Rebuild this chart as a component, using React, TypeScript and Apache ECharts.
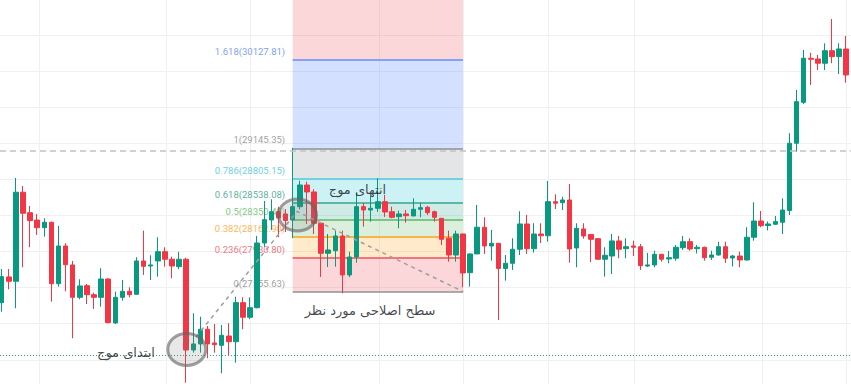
import React, { useEffect, useRef } from 'react';
import * as echarts from 'echarts';

// [open, close, low, high] for each candle, index = position on the time axis
const ohlc: number[][] = [
  [27434, 27722, 27334, 27807], [27719, 27671, 27582, 27807], [27671, 28658, 27372, 28816], [28658, 28425, 27826, 28727],
  [28431, 28343, 28048, 28506], [28350, 28265, 28184, 28417], [28265, 28325, 28165, 28369], [28325, 27644, 27445, 28332],
  [27644, 28062, 27611, 28284], [28062, 27855, 27560, 28092], [27852, 27493, 27039, 27896], [27493, 27619, 27471, 27693],
  [27622, 27522, 27419, 27641], [27522, 27493, 27364, 27544], [27493, 27696, 27389, 27815], [27696, 27212, 27205, 27704],
  [27209, 27493, 27197, 27556], [27493, 27560, 27456, 27685], [27560, 27522, 27493, 27604], [27527, 27896, 27520, 27937],
  [27896, 27837, 27741, 28232], [27840, 27852, 27685, 27959], [27896, 27999, 27722, 28159], [27999, 27915, 27833, 28048],
  [27915, 27840, 27704, 27944], [27833, 27915, 27804, 27999], [27915, 26909, 26547, 27932], [26909, 26976, 26879, 27316],
  [26976, 27139, 26879, 27278], [27139, 26976, 26817, 27175], [26987, 26968, 26879, 27197], [26961, 27072, 26651, 27186],
  [27064, 27001, 26854, 27205], [27001, 27434, 26768, 27500], [27434, 27272, 27139, 27493], [27272, 27378, 27250, 27493],
  [27378, 28095, 27370, 28173], [28095, 28354, 28054, 28561], [28350, 28442, 28240, 28580], [28442, 28373, 28162, 28495],
  [28417, 28345, 28217, 28472], [28350, 28498, 28148, 29150], [28498, 28738, 28469, 28786], [28738, 28661, 28306, 28775],
  [28661, 28314, 28195, 28691], [28314, 27981, 27719, 28320], [27981, 28018, 27829, 28195], [28010, 28173, 27833, 28232],
  [28173, 27741, 27538, 28232], [27741, 27940, 27715, 27999], [27940, 28498, 27877, 28646], [28498, 28461, 28276, 28539],
  [28461, 28480, 28332, 28616], [28480, 28553, 28439, 28813], [28553, 28439, 28384, 28628], [28442, 28380, 28369, 28498],
  [28387, 28417, 28258, 28454], [28417, 28398, 28320, 28461], [28395, 28469, 28395, 28591], [28469, 28487, 28380, 28542],
  [28491, 28431, 28406, 28506], [28442, 28380, 28332, 28454], [28369, 28136, 28073, 28369], [28148, 27962, 27888, 28232],
  [27962, 28195, 27888, 28232], [28195, 27763, 27604, 28200], [27766, 27974, 27611, 27980], [27974, 28270, 27974, 28517],
  [28270, 28062, 27974, 28380], [28062, 28092, 27899, 28240], [28092, 27813, 27242, 28095], [27813, 27870, 27678, 27962],
  [27870, 28026, 27796, 28148], [28026, 28306, 27962, 28447], [28306, 28032, 27974, 28406], [28032, 28195, 27988, 28314],
  [28195, 28176, 28095, 28314], [28176, 28553, 28110, 28783], [28553, 28536, 28472, 28635], [28542, 28572, 28461, 28609],
  [28572, 28029, 27877, 28750], [28040, 28258, 27826, 28314], [28251, 28173, 28143, 28314], [28190, 28136, 27885, 28195],
  [28143, 27915, 27910, 28150], [27915, 27959, 27722, 28048], [27951, 28118, 27752, 28195], [28118, 28026, 27926, 28173],
  [28032, 28054, 27926, 28148], [28062, 28048, 27951, 28121], [28054, 27844, 27796, 28084], [27840, 27852, 27829, 27985],
  [27852, 27970, 27826, 28010], [27970, 27915, 27888, 27974], [27918, 27932, 27870, 28007], [27926, 28048, 27899, 28073],
  [28043, 28110, 28018, 28173], [28110, 28029, 28010, 28148], [28032, 28048, 27979, 28073], [28048, 27932, 27899, 28054],
  [27937, 27962, 27907, 28010], [27962, 28054, 27955, 28110], [28054, 27926, 27874, 28110], [27929, 27951, 27835, 27962],
  [27951, 27907, 27826, 27999], [27907, 28159, 27900, 28270], [28159, 28339, 28121, 28547], [28339, 28287, 28270, 28450],
  [28289, 28306, 28234, 28334], [28303, 28332, 28295, 28395], [28325, 28461, 28195, 28591], [28456, 29201, 28406, 29312],
  [29201, 29662, 29108, 29792], [29655, 30143, 29636, 30235], [30143, 30132, 29847, 30205], [30135, 30088, 30013, 30180],
  [30088, 30227, 30013, 30309], [30227, 30161, 30088, 30579], [30161, 30246, 29969, 30309], [30246, 29958, 29873, 30390],
  [29958, 30002, 29940, 30030],
];

const fibRatios = [0, 0.236, 0.382, 0.5, 0.618, 0.786, 1, 1.618, 2.618];
const fibPrices = [27555.63, 27930.8, 28162.9, 28350.49, 28538.08, 28805.15, 29145.35, 30127.81, 31717.52];
const fibColors = ['#787b86', '#f23645', '#ff9800', '#4caf50', '#089981', '#00bcd4', '#787b86', '#2962ff', '#f23645'];
const fibLineColors = ['#8e9099', '#f2505c', '#ffa01e', '#5cb85f', '#3aa58f', '#4fcbdc', '#8e9099', '#6a8df7'];
const fibLabelColors = ['#868686', '#f2505c', '#ffa01e', '#5cb85f', '#2a9d86', '#3cc4d9', '#868686', '#5a86f5'];
const fibStartIdx = 41;
const fibEndIdx = 65;

const priceGrid = [26800, 27200, 27600, 28000, 28400, 28800, 29200, 29600, 30000, 30400];
const priceMin = 26532;
const priceMax = 30789;
const timeGridIdx = [5.26, 23.15, 34.99, 53.17, 64.99, 76.98, 89.1, 107.1, 118.96];
const waveLine = [[27.38, 27053], [41.61, 28445], [65.04, 27555.63]];
const waveCircles = [[26.08, 26915], [41.68, 28406]];
const dashedLevel = 29118.6;
const dottedLevel = 26846;
const annotations: [string, number, number][] = [
  ['ابتدای موج', 17.51, 26876],
  ['انتهای موج', 50.13, 28683],
  ['سطح اصلاحی مورد نظر', 51.9, 27342],
];

function rgba(hex: string, a: number) {
  const n = parseInt(hex.slice(1), 16);
  return `rgba(${(n >> 16) & 255},${(n >> 8) & 255},${n & 255},${a})`;
}

export default function App() {
  const ref = useRef<HTMLDivElement>(null);
  useEffect(() => {
    if (!ref.current) return;
    const chart = echarts.init(ref.current, null, { renderer: 'svg' });
    const bands: any[] = [];
    for (let k = 1; k < fibPrices.length; k++) {
      bands.push([
        { coord: [fibStartIdx, fibPrices[k - 1]], itemStyle: { color: rgba(fibColors[k], 0.2) } },
        { coord: [fibEndIdx, fibPrices[k]] },
      ]);
    }
    const levelLines = fibPrices.slice(0, 8).map((p, k) => [
      { coord: [fibStartIdx, p], lineStyle: { color: fibLineColors[k], width: 1.5, type: 'solid' } },
      { coord: [fibEndIdx, p] },
    ]);
    const gridLineStyle = { color: '#f0f0f0', width: 1, type: 'solid' };
    const option: any = {
      animation: false,
      backgroundColor: '#ffffff',
      grid: { left: 0, right: 0, top: 0, bottom: 0, containLabel: false },
      xAxis: {
        type: 'value', min: -0.24, max: 119.67,
        axisLine: { show: false }, axisTick: { show: false }, axisLabel: { show: false }, splitLine: { show: false },
      },
      yAxis: {
        type: 'value', min: priceMin, max: priceMax,
        axisLine: { show: false }, axisTick: { show: false }, axisLabel: { show: false }, splitLine: { show: false },
      },
      series: [
        {
          type: 'line', data: [], z: 0, silent: true,
          markLine: {
            z: 0, silent: true, symbol: ['none', 'none'], label: { show: false },
            lineStyle: gridLineStyle,
            data: [
              ...timeGridIdx.map((v) => ({ xAxis: v })),
              ...priceGrid.map((v) => ({ yAxis: v })),
            ],
          },
        },
        {
          type: 'line', data: [], z: 1, silent: true,
          markArea: { z: 1, silent: true, data: bands },
          markLine: { z: 1, silent: true, symbol: ['none', 'none'], label: { show: false }, data: levelLines },
        },
        {
          type: 'scatter', z: 2, silent: true, symbolSize: 1,
          itemStyle: { color: 'rgba(0,0,0,0)' },
          label: { show: true, position: 'left', distance: 7, offset: [0, -8.5], fontFamily: 'Roboto', fontSize: 9.5 },
          data: fibPrices.slice(0, 8).map((p, k) => ({
            value: [fibStartIdx, p],
            label: { color: fibLabelColors[k], formatter: `${fibRatios[k]}(${p.toFixed(2)})` },
          })),
        },
        {
          type: 'candlestick', z: 3, barWidth: 5,
          encode: { x: 0, y: [1, 2, 3, 4] },
          itemStyle: { color: '#089981', color0: '#f23645', borderColor: '#089981', borderColor0: '#f23645', borderWidth: 1 },
          data: ohlc.map((r, i) => [i, ...r]),
        },
        {
          type: 'line', z: 4, silent: true, symbol: 'none',
          lineStyle: { color: '#9e9e9e', width: 1.5, type: [4, 4] },
          data: waveLine,
        },
        {
          type: 'line', data: [], z: 4, silent: true,
          markLine: {
            z: 4, silent: true, symbol: ['none', 'none'], label: { show: false },
            data: [
              { yAxis: dashedLevel, lineStyle: { color: '#c2c2c2', width: 1.5, type: [6, 4] } },
              { yAxis: dottedLevel, lineStyle: { color: '#2aa58c', width: 1, type: [1, 2] } },
            ],
          },
        },
        {
          type: 'custom', z: 5, silent: true,
          data: waveCircles,
          renderItem: (_p: any, api: any) => {
            const c = api.coord([api.value(0), api.value(1)]);
            return {
              type: 'ellipse',
              shape: { cx: c[0], cy: c[1], rx: 19, ry: 16 },
              style: { fill: 'rgba(128,128,128,0.18)', stroke: 'rgba(100,100,100,0.62)', lineWidth: 3 },
            };
          },
        },
        {
          type: 'scatter', z: 6, silent: true, symbolSize: 1,
          itemStyle: { color: 'rgba(0,0,0,0)' },
          label: {
            show: true, position: 'inside', formatter: '{b}', color: '#131722',
            fontFamily: 'DejaVu Sans', fontSize: 13,
          },
          data: annotations.map((a) => ({ name: a[0], value: [a[1], a[2]] })),
        },
      ],
    };
    chart.setOption(option);
    return () => chart.dispose();
  }, []);
  return (
    <div
      ref={ref}
      style={{ position: 'fixed', left: 0, top: 0, width: 851, height: 384, background: '#fff' }}
    />
  );
}
